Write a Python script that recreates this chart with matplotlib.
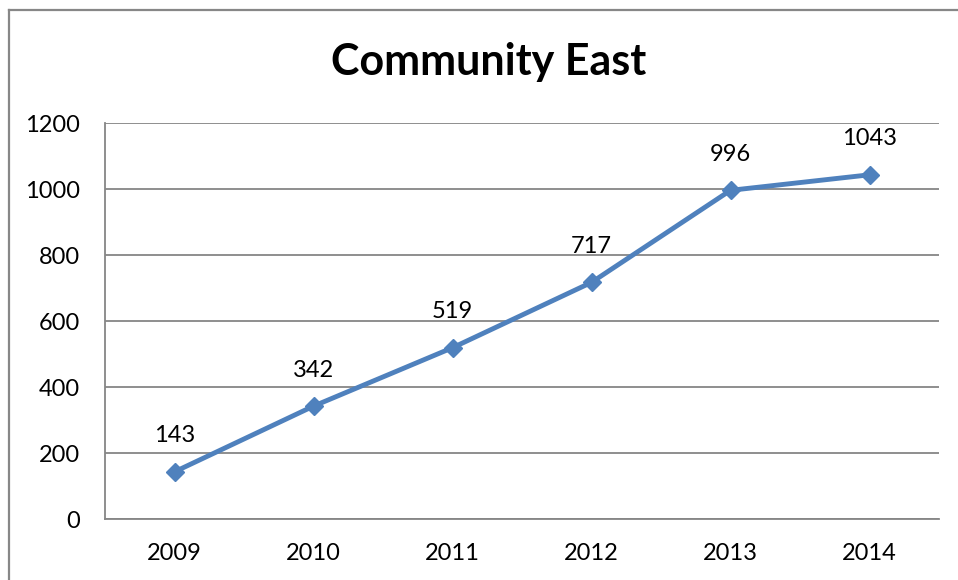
import matplotlib
matplotlib.use("Agg")
import matplotlib.pyplot as plt
from matplotlib.lines import Line2D

years = ["2009", "2010", "2011", "2012", "2013", "2014"]
values = [143, 342, 519, 717, 996, 1043]
yticks = [0, 200, 400, 600, 800, 1000, 1200]

W, H = 958, 580
fig = plt.figure(figsize=(W / 100, H / 100), dpi=100)
plt.rcParams['font.family'] = ['Lato', 'DejaVu Sans']

# outer chart border (top and left visible)
fig.add_artist(Line2D([9 / W, 1.0], [1 - 10 / H, 1 - 10 / H], color="#878787", lw=1.6, transform=fig.transFigure))
fig.add_artist(Line2D([9 / W, 9 / W], [0, 1 - 10 / H], color="#878787", lw=1.6, transform=fig.transFigure))

left, right, top, bottom = 105, 939, 123, 519
ax = fig.add_axes([left / W, 1 - bottom / H, (right - left) / W, (bottom - top) / H])

x = list(range(len(years)))
ax.plot(x, values, color="#4F81BD", lw=3.5, marker="D", markersize=9.5, zorder=3)
for xi, v in zip(x, values):
    ax.annotate(str(v), (xi, v), xytext=(0, 26), textcoords="offset points",
                ha="center", va="center", fontsize=17, color="black")

ax.set_xlim(-0.5, len(years) - 0.5)
ax.set_ylim(0, 1200)
ax.set_yticks(yticks)
ax.set_yticklabels([str(t) for t in yticks])
ax.set_xticks(x)
ax.set_xticklabels(years)
ax.tick_params(axis="both", length=0, labelsize=17, colors="black")
ax.tick_params(axis="y", pad=18)
ax.tick_params(axis="x", pad=17)
ax.grid(axis="y", color="#868686", lw=1.3)
ax.set_axisbelow(True)
for s in ["top", "right"]:
    ax.spines[s].set_visible(False)
for s in ["left", "bottom"]:
    ax.spines[s].set_color("#868686")
    ax.spines[s].set_linewidth(1.3)

fig.text(489 / W, 1 - 62 / H, "Community East", ha="center", va="center",
         fontsize=31, fontweight="bold", color="black")

fig.savefig("out.png", dpi=100)
